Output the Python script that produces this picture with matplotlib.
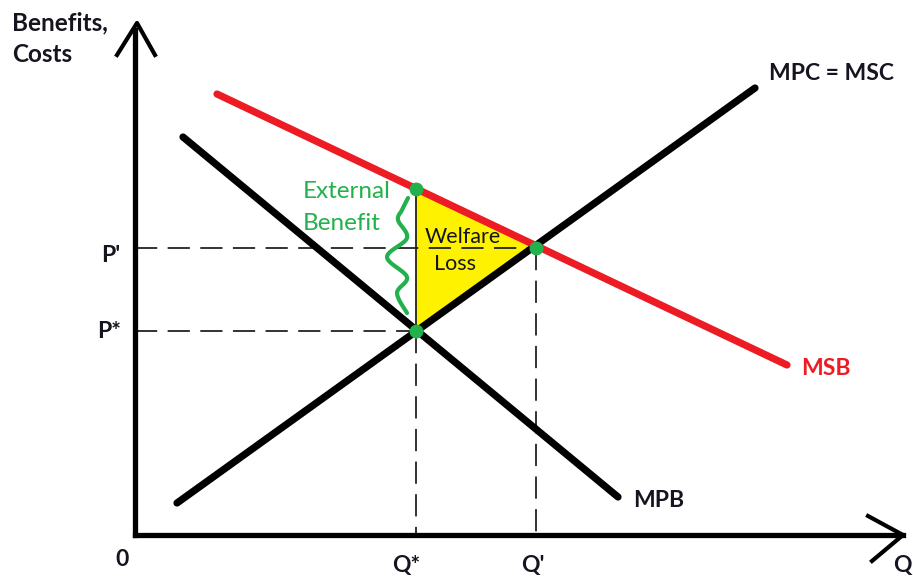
import numpy as np
import matplotlib
matplotlib.use("Agg")
import matplotlib.pyplot as plt

plt.rcParams['lines.scale_dashes'] = False
FONT = ['Lato', 'DejaVu Sans']

# ---- data (origin at the axes corner, units = quantity / price scale) ----
msc_x = [42, 620]          # MPC = MSC (supply)
msc_y = [32, 447]
mpb_x = [48, 483]          # MPB (private demand)
mpb_y = [398, 38]
msb_x = [82, 652]          # MSB (social benefit)
msb_y = [441, 170]
q_star, p_star = 281, 204
q_prime, p_prime = 401, 287
msb_at_qstar = 346

x_labels = ["0", "Q*", "Q'", "Q"]
y_labels = ["P'", "P*"]

BLACK = '#000000'
RED = '#ed1c24'
GREEN = '#22b14c'
YELLOW = '#fff200'
TXT = '#151520'

fig = plt.figure(figsize=(9.13, 5.77), dpi=100)
ax = fig.add_axes([0, 0, 1, 1])
ax.set_xlim(-135, 778)
ax.set_ylim(-42, 535)
ax.axis('off')

# welfare loss triangle
ax.fill([q_star, q_star, q_prime], [p_star, msb_at_qstar, p_prime],
        color=YELLOW, zorder=1, lw=0)
ax.plot([q_star, q_star], [p_star, msb_at_qstar], color='#222222', lw=1.3, zorder=2)

# dashed guide lines
dash = dict(color='#222222', lw=1.3, dashes=(16, 7.5), zorder=2)
ax.plot([0, q_prime], [p_prime, p_prime], **dash)
ax.plot([0, q_star], [p_star, p_star], **dash)
ax.plot([q_star, q_star], [p_star, 0], **dash)
ax.plot([q_prime, q_prime], [p_prime, 0], **dash)

# curves
ax.plot(msc_x, msc_y, color=BLACK, lw=5.2, solid_capstyle='round', zorder=3)
ax.plot(mpb_x, mpb_y, color=BLACK, lw=5.2, solid_capstyle='round', zorder=3)
ax.plot(msb_x, msb_y, color=RED, lw=5.2, solid_capstyle='round', zorder=4)

# axes with open arrowheads
ax.plot([0, 0], [0, 505], color=BLACK, lw=3.8, solid_capstyle='projecting', zorder=5)
ax.plot([0, 768], [0, 0], color=BLACK, lw=3.8, solid_capstyle='projecting', zorder=5)
ax.plot([-18, 2, 20], [480, 512, 480], color=BLACK, lw=3.0, zorder=5)
ax.plot([733, 768, 737], [19, 0, -26], color=BLACK, lw=3.0, zorder=5)

# equilibrium points
ax.plot([q_star, q_star, q_prime], [msb_at_qstar, p_star, p_prime], 'o',
        color=GREEN, ms=9, zorder=6)

# external benefit squiggle (curly brace) drawn left of Q*
bx = np.array([-8, -14, -18, -9, -29, -9, -19, -9], float) + q_star
by = np.array([337, 325, 315, 297, 278, 258, 242, 222], float)
def catmull(px, py, n=12):
    P = np.column_stack([px, py])
    P = np.vstack([P[0], P, P[-1]])
    out = []
    for i in range(1, len(P) - 2):
        p0, p1, p2, p3 = P[i-1], P[i], P[i+1], P[i+2]
        for t in np.linspace(0, 1, n, endpoint=False):
            t2, t3 = t*t, t*t*t
            out.append(0.5*((2*p1) + (-p0+p2)*t + (2*p0-5*p1+4*p2-p3)*t2 + (-p0+3*p1-3*p2+p3)*t3))
    out.append(P[-2])
    return np.array(out)
c = catmull(bx, by)
ax.plot(c[:, 0], c[:, 1], color=GREEN, lw=3.0, solid_capstyle='round', zorder=3)

# texts
bold = dict(fontfamily=FONT, fontweight='bold', color=TXT, fontsize=16.5)
ax.text(-123, 505, "Benefits,", ha='left', va='baseline', **{**bold, 'fontsize': 17.5})
ax.text(-123, 473, "Costs", ha='left', va='baseline', **{**bold, 'fontsize': 17.5})
ax.text(634, 455, "MPC = MSC", ha='left', va='baseline', **bold)
ax.text(666, 160, "MSB", ha='left', va='baseline', **{**bold, 'color': RED})
ax.text(498, 28, "MPB", ha='left', va='baseline', **bold)

ax.text(-34, 273, y_labels[0], ha='left', va='baseline', **bold)
ax.text(-38, 197, y_labels[1], ha='left', va='baseline', **bold)
ax.text(-13, -31, x_labels[0], ha='center', va='baseline', **bold)
ax.text(q_star - 10, -37, x_labels[1], ha='center', va='baseline', **bold)
ax.text(q_prime - 3, -37, x_labels[2], ha='center', va='baseline', **bold)
ax.text(777, -37, x_labels[3], ha='right', va='baseline', **bold)

ax.text(168, 337, "External", ha='left', va='baseline', fontfamily=FONT,
        color=GREEN, fontsize=17.5)
ax.text(168, 305, "Benefit", ha='left', va='baseline', fontfamily=FONT,
        color=GREEN, fontsize=17.5)
ax.text(328, 292, "Welfare", ha='center', va='baseline', fontfamily=FONT,
        color=TXT, fontsize=15.5)
ax.text(320, 265, "Loss", ha='center', va='baseline', fontfamily=FONT,
        color=TXT, fontsize=15.5)

fig.savefig("out.png", dpi=100)
